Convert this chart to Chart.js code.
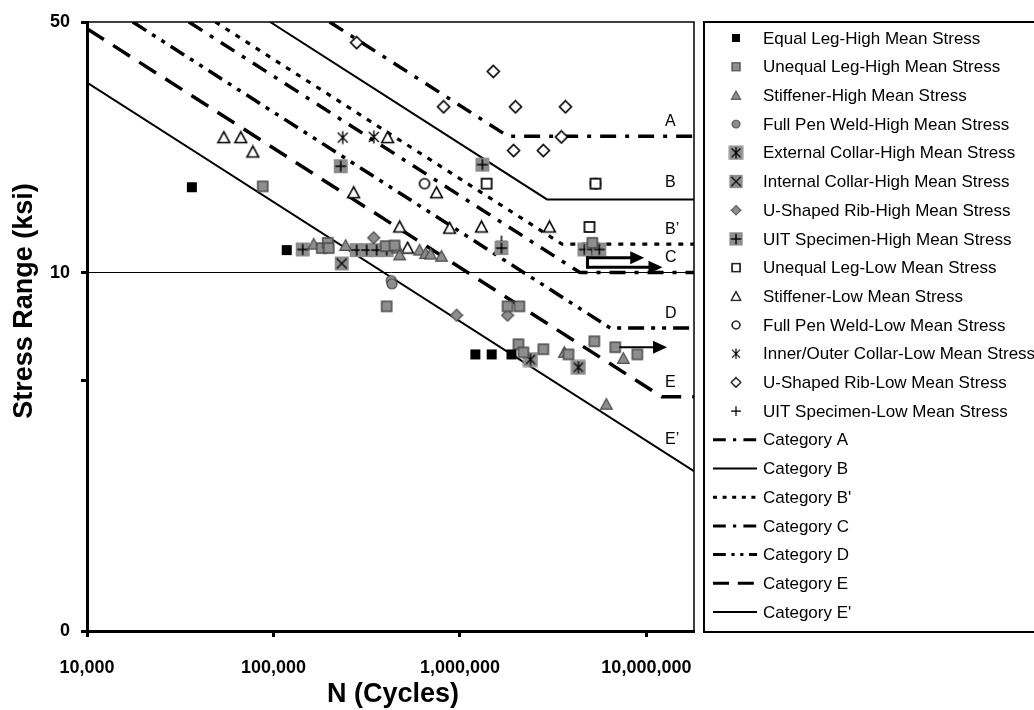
<!DOCTYPE html>
<html><head><meta charset="utf-8">
<script src="https://cdn.jsdelivr.net/npm/chart.js@4.4.1/dist/chart.umd.min.js"></script>
<style>html,body{margin:0;padding:0;background:#fff;overflow:hidden}canvas{display:block}</style>
</head><body><canvas id="c" width="1034" height="710"></canvas>
<script>
const FONT = "'Liberation Sans', Arial, Helvetica, sans-serif";

// ---- axis ticks ----
const xTicks = [1e4, 1e5, 1e6, 1e7];
const xTickLabels = ['10,000', '100,000', '1,000,000', '10,000,000'];
const yTicks = [1, 5, 10, 50];
const yTickLabels = ['0', '', '10', '50'];

// ---- test data (N cycles, stress range ksi) ----
const equalLegHighN = [36500, 117800, 1.21e6, 1.48e6, 1.89e6];
const equalLegHighS = [17.3, 11.55, 5.91, 5.91, 5.91];
const unequalLegHighN = [87600, 181500, 195400, 197800, 399500, 446400, 404500, 1.80e6, 2.085e6, 2.06e6, 2.19e6, 2.80e6, 3.82e6, 5.26e6, 6.81e6, 8.94e6, 5.13e6];
const unequalLegHighS = [17.4, 11.7, 12.1, 11.7, 11.85, 11.9, 8.05, 8.05, 8.05, 6.31, 5.99, 6.11, 5.91, 6.43, 6.19, 5.91, 12.1];
const stiffenerHighN = [164400, 243900, 463300, 474900, 607600, 654200, 695800, 797000, 3.63e6, 7.52e6, 6.10e6];
const stiffenerHighS = [12.0, 11.9, 11.7, 11.2, 11.55, 11.3, 11.26, 11.1, 5.99, 5.76, 4.29];
const fullPenHighN = [428000, 432000];
const fullPenHighS = [9.5, 9.3];
const extCollarHighN = [2.39e6, 4.32e6];
const extCollarHighS = [5.72, 5.44];
const intCollarHighN = [232200];
const intCollarHighS = [10.6];
const uRibHighN = [344600, 959000, 1.80e6];
const uRibHighS = [12.5, 7.6, 7.6];
const uitHighN = [143500, 229400, 279400, 316000, 357500, 404500, 1.32e6, 1.67e6, 4.65e6, 5.13e6, 5.59e6];
const uitHighS = [11.6, 19.8, 11.55, 11.55, 11.55, 11.55, 20.0, 11.7, 11.6, 11.6, 11.6];
const unequalLegLowN = [1.39e6, 5.33e6, 4.95e6];
const unequalLegLowS = [17.7, 17.7, 13.4];
const stiffenerLowN = [54200, 66800, 77500, 269200, 409500, 749300, 474900, 879800, 1.305e6, 3.02e6, 524000];
const stiffenerLowS = [23.8, 23.8, 21.7, 16.7, 23.8, 16.7, 13.4, 13.3, 13.4, 13.4, 11.7];
const fullPenLowN = [646000, 5.33e6];
const fullPenLowS = [17.7, 17.7];
const collarLowN = [235100, 345000];
const collarLowS = [23.8, 23.9];
const uRibLowN = [279400, 1.51e6, 817000, 1.985e6, 3.68e6, 3.50e6, 1.94e6, 2.80e6];
const uRibLowS = [43.8, 36.4, 29.0, 29.0, 29.0, 23.9, 21.9, 21.9];
const uitLowN = [1.67e6];
const uitLowS = [12.2];

// ---- AASHTO category lines (entry, knee, end) ----
const catAN = [2.0e5, 1.81e6, 1.8e7];   const catAS = [50, 24, 24];
const catBN = [9.6e4, 2.93e6, 1.8e7];   const catBS = [50, 16, 16];
const catBpN = [4.88e4, 3.53e6, 1.8e7]; const catBpS = [50, 12, 12];
const catCN = [3.52e4, 4.4e6, 1.8e7];   const catCS = [50, 10, 10];
const catDN = [1.76e4, 6.41e6, 1.8e7];  const catDS = [50, 7, 7];
const catEN = [1e4, 1.21e7, 1.8e7];     const catES = [47.9, 4.5, 4.5];
const catEpN = [1e4, 1.8e7];            const catEpS = [33.9, 2.79];

// ---- category tags & run-out arrows ----
const tagText = ['A', 'B', 'B\u2019', 'C', 'D', 'E', 'E\u2019'];
const tagN = [1.26e7, 1.26e7, 1.26e7, 1.26e7, 1.26e7, 1.26e7, 1.26e7];
const tagS = [26.3, 17.8, 13.2, 11.0, 7.7, 4.94, 3.42];
const arrowFromN = [4.83e6, 4.83e6, 7.16e6];
const arrowToN = [9.74e6, 1.22e7, 1.29e7];
const arrowS = [11.0, 10.35, 6.19];

// ---- markers ----
const GRAY = '#8e8e8e', EDGE = '#4a4a4a';
function mk(sz, fn) { const c = document.createElement('canvas'); c.width = sz; c.height = sz; const g = c.getContext('2d'); fn(g, sz / 2); return c; }
function tri(g, c, r) { g.beginPath(); g.moveTo(c, c - r); g.lineTo(c + r, c + r * 0.85); g.lineTo(c - r, c + r * 0.85); g.closePath(); }
function dia(g, c, r) { g.beginPath(); g.moveTo(c, c - r); g.lineTo(c + r, c); g.lineTo(c, c + r); g.lineTo(c - r, c); g.closePath(); }
function lines(g, segs, lw) { g.strokeStyle = '#000'; g.lineWidth = lw; g.beginPath(); segs.forEach(s => { g.moveTo(s[0], s[1]); g.lineTo(s[2], s[3]); }); g.stroke(); }
const M = {
  blackSquare: mk(12, (g, c) => { g.fillStyle = '#000'; g.fillRect(c - 5, c - 5, 10, 10); }),
  graySquare: mk(14, (g, c) => { g.fillStyle = GRAY; g.fillRect(c - 5, c - 5, 10, 10); g.strokeStyle = EDGE; g.lineWidth = 1.5; g.strokeRect(c - 5, c - 5, 10, 10); }),
  grayTriangle: mk(15, (g, c) => { tri(g, c, 5.8); g.fillStyle = GRAY; g.fill(); g.strokeStyle = EDGE; g.lineWidth = 1.2; g.stroke(); }),
  grayCircle: mk(14, (g, c) => { g.beginPath(); g.arc(c, c, 5, 0, 2 * Math.PI); g.fillStyle = GRAY; g.fill(); g.strokeStyle = EDGE; g.lineWidth = 1.2; g.stroke(); }),
  graySqAst: mk(16, (g, c) => { g.fillStyle = GRAY; g.fillRect(c - 7.5, c - 7.5, 15, 15); lines(g, [[c - 4.5, c - 4.5, c + 4.5, c + 4.5], [c - 4.5, c + 4.5, c + 4.5, c - 4.5], [c, c - 6, c, c + 6]], 1.3); }),
  graySqX: mk(16, (g, c) => { g.fillStyle = GRAY; g.fillRect(c - 7, c - 7, 14, 14); lines(g, [[c - 5, c - 5, c + 5, c + 5], [c - 5, c + 5, c + 5, c - 5]], 1.3); }),
  grayDiamond: mk(14, (g, c) => { dia(g, c, 6); g.fillStyle = GRAY; g.fill(); g.strokeStyle = EDGE; g.lineWidth = 1.2; g.stroke(); }),
  graySqPlus: mk(16, (g, c) => { g.fillStyle = GRAY; g.fillRect(c - 7, c - 7, 14, 14); lines(g, [[c - 5.5, c, c + 5.5, c], [c, c - 5.5, c, c + 5.5]], 1.5); }),
  openSquare: mk(14, (g, c) => { g.fillStyle = '#fff'; g.fillRect(c - 5, c - 5, 10, 10); g.strokeStyle = '#000'; g.lineWidth = 1.7; g.strokeRect(c - 5, c - 5, 10, 10); }),
  openTriangle: mk(15, (g, c) => { tri(g, c, 5.8); g.fillStyle = '#fff'; g.fill(); g.strokeStyle = '#000'; g.lineWidth = 1.6; g.stroke(); }),
  openCircle: mk(14, (g, c) => { g.beginPath(); g.arc(c, c, 5, 0, 2 * Math.PI); g.fillStyle = '#fff'; g.fill(); g.strokeStyle = '#000'; g.lineWidth = 1.6; g.stroke(); }),
  asterisk: mk(16, (g, c) => { lines(g, [[c - 5, c - 5, c + 5, c + 5], [c - 5, c + 5, c + 5, c - 5], [c, c - 6.5, c, c + 6.5]], 1.4); }),
  openDiamond: mk(15, (g, c) => { dia(g, c, 6); g.fillStyle = '#fff'; g.fill(); g.strokeStyle = '#000'; g.lineWidth = 1.6; g.stroke(); }),
  plus: mk(16, (g, c) => { lines(g, [[c - 6, c, c + 6, c], [c, c - 6, c, c + 6]], 1.4); })
};
const bgMarkers = ['graySqAst', 'graySqX', 'graySqPlus'];

const pts = (N, S) => N.map((n, i) => ({ x: n, y: S[i] }));
function sc(label, N, S, marker) {
  return { label, data: pts(N, S), pointStyle: M[marker], pointRadius: 6, pointHoverRadius: 6, showLine: false, order: 0, _marker: marker };
}
function ln(label, N, S, width, dash) {
  return { label, data: pts(N, S), showLine: true, pointRadius: 0, pointHoverRadius: 0, borderColor: '#000', borderWidth: width, borderDash: dash, fill: false, order: 1, tension: 0 };
}

const datasets = [
  sc('Equal Leg-High Mean Stress', equalLegHighN, equalLegHighS, 'blackSquare'),
  sc('Unequal Leg-High Mean Stress', unequalLegHighN, unequalLegHighS, 'graySquare'),
  sc('Stiffener-High Mean Stress', stiffenerHighN, stiffenerHighS, 'grayTriangle'),
  sc('Full Pen Weld-High Mean Stress', fullPenHighN, fullPenHighS, 'grayCircle'),
  sc('External Collar-High Mean Stress', extCollarHighN, extCollarHighS, 'graySqAst'),
  sc('Internal Collar-High Mean Stress', intCollarHighN, intCollarHighS, 'graySqX'),
  sc('U-Shaped Rib-High Mean Stress', uRibHighN, uRibHighS, 'grayDiamond'),
  sc('UIT Specimen-High Mean Stress', uitHighN, uitHighS, 'graySqPlus'),
  sc('Unequal Leg-Low Mean Stress', unequalLegLowN, unequalLegLowS, 'openSquare'),
  sc('Stiffener-Low Mean Stress', stiffenerLowN, stiffenerLowS, 'openTriangle'),
  sc('Full Pen Weld-Low Mean Stress', fullPenLowN, fullPenLowS, 'openCircle'),
  sc('Inner/Outer Collar-Low Mean Stress', collarLowN, collarLowS, 'asterisk'),
  sc('U-Shaped Rib-Low Mean Stress', uRibLowN, uRibLowS, 'openDiamond'),
  sc('UIT Specimen-Low Mean Stress', uitLowN, uitLowS, 'plus'),
  ln('Category A', catAN, catAS, 3.5, [16, 9, 4, 9]),
  ln('Category B', catBN, catBS, 2, []),
  ln('Category B\'', catBpN, catBpS, 3.2, [5, 7]),
  ln('Category C', catCN, catCS, 3.5, [16, 9, 4, 9]),
  ln('Category D', catDN, catDS, 3.5, [16, 7, 4, 7, 4, 7]),
  ln('Category E', catEN, catES, 3.5, [20, 11]),
  ln('Category E\'', catEpN, catEpS, 2, [])
];

const overlay = {
  id: 'overlay',
  afterDatasetsDraw(chart) {
    const { ctx, chartArea: a, scales: { x, y } } = chart;
    ctx.save();
    ctx.strokeStyle = '#000'; ctx.lineWidth = 1.5; ctx.setLineDash([]);
    ctx.beginPath(); ctx.moveTo(a.left, a.top); ctx.lineTo(a.right, a.top); ctx.lineTo(a.right, a.bottom); ctx.stroke();
    // arrows
    ctx.fillStyle = '#000';
    const px0 = arrowFromN.map(v => x.getPixelForValue(v));
    const px1 = arrowToN.map(v => x.getPixelForValue(v));
    const py = arrowS.map(v => y.getPixelForValue(v));
    for (let i = 0; i < arrowS.length; i++) {
      const head = 14, hh = 6.5;
      ctx.lineWidth = i < 2 ? 3 : 2;
      ctx.beginPath(); ctx.moveTo(px0[i], py[i]); ctx.lineTo(px1[i] - head + 1, py[i]); ctx.stroke();
      ctx.beginPath(); ctx.moveTo(px1[i] - head, py[i] - hh); ctx.lineTo(px1[i], py[i]); ctx.lineTo(px1[i] - head, py[i] + hh); ctx.closePath(); ctx.fill();
    }
    ctx.lineWidth = 3;
    ctx.beginPath(); ctx.moveTo(px0[0], py[0] - 1.5); ctx.lineTo(px0[0], py[1] + 1.5); ctx.stroke();
    // category tags
    ctx.font = '16px ' + FONT; ctx.textAlign = 'left'; ctx.textBaseline = 'middle'; ctx.fillStyle = '#000';
    tagText.forEach((t, i) => ctx.fillText(t, x.getPixelForValue(tagN[i]), y.getPixelForValue(tagS[i])));
    ctx.restore();
  },
  afterDraw(chart) {
    const ctx = chart.ctx;
    ctx.save();
    // axis titles
    ctx.fillStyle = '#000'; ctx.font = 'bold 27px ' + FONT; ctx.textAlign = 'center'; ctx.textBaseline = 'middle';
    ctx.fillText('N (Cycles)', 393, 695);
    ctx.save(); ctx.translate(25, 301); ctx.rotate(-Math.PI / 2); ctx.fillText('Stress Range (ksi)', 0, 0); ctx.restore();
    // legend
    ctx.lineWidth = 2; ctx.strokeStyle = '#000'; ctx.setLineDash([]);
    ctx.strokeRect(704, 22, 400, 610);
    ctx.font = '17px ' + FONT; ctx.textAlign = 'left'; ctx.textBaseline = 'middle';
    chart.data.datasets.forEach((d, i) => {
      const yy = 38 + i * 28.7;
      if (d._marker) {
        const im = M[d._marker];
        const f = bgMarkers.includes(d._marker) ? 0.95 : 0.8;
        const w = im.width * f, h = im.height * f;
        ctx.drawImage(im, 736 - w / 2, yy - h / 2, w, h);
      } else {
        ctx.save(); ctx.strokeStyle = '#000'; ctx.lineWidth = Math.min(d.borderWidth, 3); ctx.setLineDash(d.borderDash.map(v => v * 0.8));
        ctx.beginPath(); ctx.moveTo(713, yy); ctx.lineTo(757, yy); ctx.stroke(); ctx.restore();
      }
      ctx.fillStyle = '#000';
      ctx.fillText(d.label, 763, yy + 1);
    });
    ctx.restore();
  }
};

new Chart(document.getElementById('c'), {
  type: 'scatter',
  data: { datasets },
  options: {
    responsive: false, animation: false, devicePixelRatio: 1,
    layout: { padding: { left: 0, right: 340, top: 22, bottom: 0 } },
    plugins: { legend: { display: false }, tooltip: { enabled: false } },
    events: [],
    scales: {
      x: {
        type: 'logarithmic', min: 1e4, max: 1.8e7,
        afterBuildTicks: s => { s.ticks = xTicks.map(v => ({ value: v })); },
        afterFit: s => { s.height = 79; },
        ticks: { callback: v => { const k = xTicks.indexOf(v); return k >= 0 ? xTickLabels[k] : ''; }, font: { family: FONT, size: 18, weight: 'bold' }, color: '#000', padding: 20, maxRotation: 0, autoSkip: false },
        grid: { color: 'rgba(0,0,0,0)', drawOnChartArea: false, tickColor: '#000', tickLength: 6, tickWidth: 3 },
        border: { display: true, color: '#000', width: 3 }
      },
      y: {
        type: 'logarithmic', min: 1, max: 50,
        afterBuildTicks: s => { s.ticks = yTicks.map(v => ({ value: v })); },
        afterFit: s => { s.width = 87; },
        ticks: { callback: v => { const k = yTicks.indexOf(v); return k >= 0 ? yTickLabels[k] : ''; }, font: { family: FONT, size: 18, weight: 'bold' }, color: '#000', padding: 11, autoSkip: false },
        grid: { color: c => (c.tick && c.tick.value === 10 ? '#000' : 'rgba(0,0,0,0)'), lineWidth: 1, tickColor: '#000', tickLength: 6, tickWidth: 3 },
        border: { display: true, color: '#000', width: 3 }
      }
    }
  },
  plugins: [overlay]
});
</script>
</body></html>
